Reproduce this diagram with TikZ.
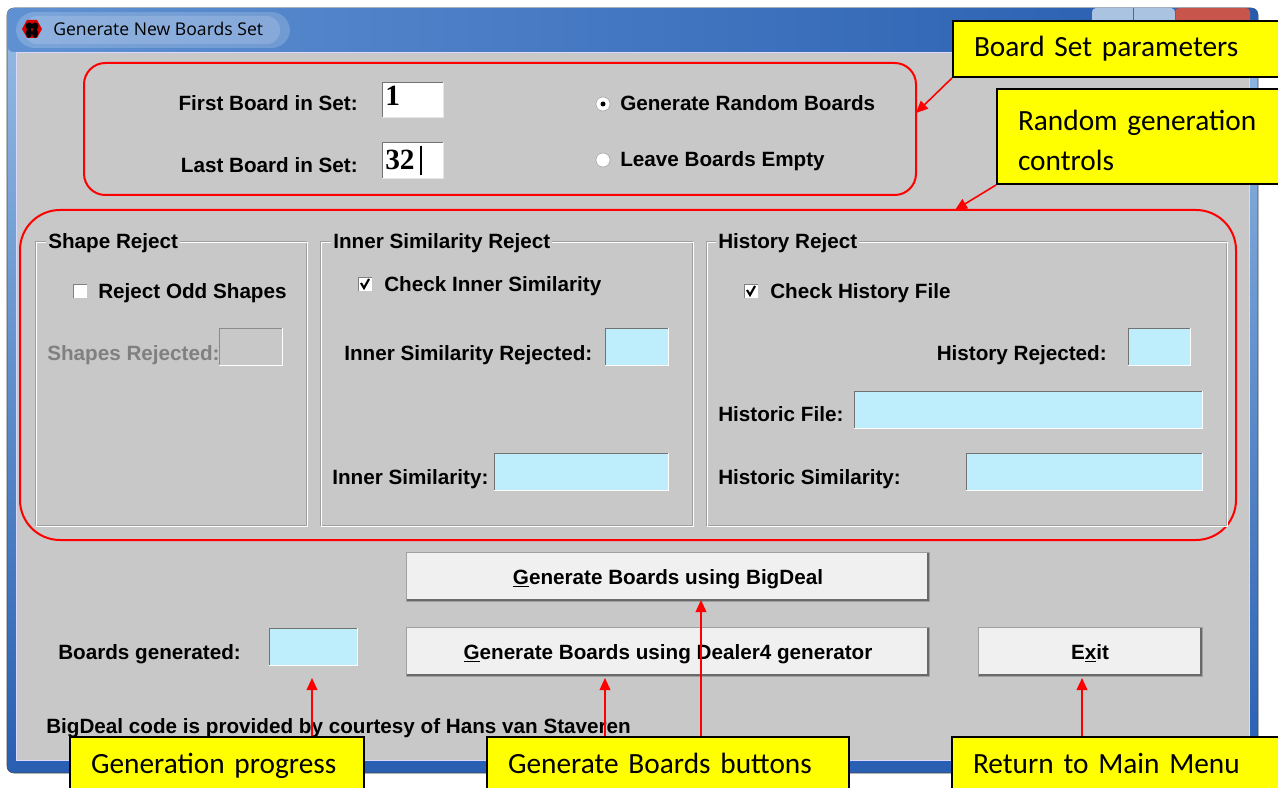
\documentclass[tikz,border=0pt]{standalone}
\usepackage{fontspec}
\setmainfont{Liberation Sans}
\newfontfamily\callfont{Carlito}
\newfontfamily\titlefont{Open Sans}
\newfontfamily\digitfont{Liberation Serif}
\usetikzlibrary{arrows.meta}

\definecolor{dlggray}{RGB}{200,200,200}
\definecolor{fieldblue}{RGB}{190,238,252}
\definecolor{btnface}{RGB}{240,240,240}
\definecolor{btnshadow}{RGB}{105,105,105}
\definecolor{etchdark}{RGB}{160,160,160}
\definecolor{frametop}{RGB}{150,188,228}
\definecolor{framebot}{RGB}{40,95,178}
\definecolor{titleA}{RGB}{95,145,210}
\definecolor{titleB}{RGB}{38,92,175}
\definecolor{capbtn}{RGB}{170,195,225}
\definecolor{closebtn}{RGB}{200,85,75}
\definecolor{calloutyellow}{RGB}{255,255,0}

\begin{document}
\begin{tikzpicture}[x=0.75pt,y=-0.75pt,
    lbl/.style={font=\bfseries\fontsize{15.5}{18}\selectfont, inner sep=0pt},
    callout/.style={draw=black, line width=1.5pt, fill=calloutyellow, anchor=north west,
      align=left, inner xsep=15.75pt, font=\callfont\fontsize{22}{30}\selectfont,
      execute at begin node=\strut},
    callarrow/.style={draw=red, line width=1.2pt, -{Triangle[length=9pt,width=8pt]}},
    redframe/.style={draw=red, line width=1.5pt},
  ]
  \useasboundingbox (0,0) rectangle (1278,788);
  \clip (0,0) rectangle (1278,788);
  \fill[white] (0,0) rectangle (1278,788);

  % window frame and title bar
  \shade[top color=frametop, bottom color=framebot, rounded corners=5pt] (7,8) rectangle (1258,773);
  \draw[black!70, rounded corners=5pt] (7,8) rectangle (1258,773);
  \shade[left color=titleA, right color=titleB, rounded corners=5pt]
    (7,52) -- (7,8) -- (1258,8) -- (1258,52) -- cycle;
  \fill[white, opacity=0.18, rounded corners=14pt] (16,12) rectangle (290,48);
  \fill[white, opacity=0.15, rounded corners=10pt] (24,16) rectangle (280,44);
  \fill[red!85!black] (22,29) -- (27,20) -- (37,20) -- (42,29) -- (37,38) -- (27,38) -- cycle;
  \fill[black] (29,26) circle (3.5) (35,26) circle (3.5) (29,33) ellipse (3 and 5) (35,33) ellipse (3 and 5);
  \node[anchor=base west, inner sep=0pt, font=\titlefont\fontsize{13.2}{15}\selectfont] (wintitle)
    at (53,36) {Generate New Boards Set};
  \fill[capbtn, rounded corners=3pt] (1092,8) rectangle (1175,30);
  \fill[closebtn, rounded corners=3pt] (1175,8) rectangle (1250,30);
  \draw[black!60] (1133,8) -- (1133,30) (1175,8) -- (1175,30);
  \fill[dlggray] (16,52) rectangle (1249,760);
  \draw[white!85!blue] (16,52) rectangle (1249,760);

  % board set parameters
  \draw[redframe, rounded corners=16pt] (84,63) rectangle (916,195);
  \node[lbl, anchor=base east] (firstlbl) at (358,111) {First Board in Set:};
  \node[lbl, anchor=base east] (lastlbl) at (358,173) {Last Board in Set:};
  \foreach \xa/\ya/\xb/\yb in {382/82/443/117, 382/142/443/178} {
    \fill[white] (\xa,\ya) rectangle (\xb,\yb);
    \draw[black!55] (\xa,\yb) |- (\xb,\ya);
    \draw[white!90!black] (\xa,\yb) -| (\xb,\ya);
  }
  \node[anchor=base west, inner sep=0pt, font=\digitfont\bfseries\fontsize{22}{22}\selectfont]
    (firstval) at (385,106) {1};
  \node[anchor=base west, inner sep=0pt, font=\digitfont\bfseries\fontsize{22}{22}\selectfont]
    (lastval) at (385,170) {32};
  \draw[black, line width=0.8pt] (421,146) -- (421,175);
  \draw[etchdark, fill=white] (603,104) circle (7) (603,160) circle (7);
  \fill[black] (603,104) circle (2.5);
  \node[lbl, anchor=base west] (randlbl) at (620,111) {Generate Random Boards};
  \node[lbl, anchor=base west] (emptylbl) at (620,167) {Leave Boards Empty};

  % random generation controls
  \draw[redframe, rounded corners=30pt] (20,210) rectangle (1236,540);
  \foreach \xa/\xb/\gname/\tx [count=\g] in {35/306/Shape Reject/46, 320/692/Inner Similarity Reject/331,
      706/1226/History Reject/716} {
    \draw[etchdark] (\xa,241) rectangle (\xb,525);
    \draw[white] (\xa+1.5,242.5) rectangle (\xb+1.5,526.5);
    \node[lbl, fill=dlggray, anchor=base west, inner xsep=1.5pt, inner ysep=2pt] (grp\g) at (\tx,248) {\gname};
  }
  \foreach \xa/\ya/\xb/\yb in {605/328/668/365, 494/453/668/490, 1128/328/1190/365,
      854/391/1202/428, 966/453/1202/490, 269/628/357/665} {
    \fill[fieldblue] (\xa,\ya) rectangle (\xb,\yb);
    \draw[black!55] (\xa,\yb) |- (\xb,\ya);
    \draw[white] (\xa,\yb) -| (\xb,\ya);
  }
  \draw[black!45] (219,365) |- (282,328);
  \draw[white] (219,365) -| (282,328);
  \foreach \cx/\cy in {80/291, 365/284, 751/291} {
    \fill[white] (\cx-7,\cy-7) rectangle (\cx+7,\cy+7);
    \draw[black!50] (\cx-7,\cy+7) |- (\cx+7,\cy-7);
  }
  \draw[line width=1.6pt] (361,283) -- (364,288) -- (369,279);
  \draw[line width=1.6pt] (747,290) -- (750,295) -- (755,286);
  \node[lbl, anchor=base west] (oddlbl) at (98,298) {Reject Odd Shapes};
  \node[lbl, anchor=base west, text=black!50] (shprej) at (47,360) {Shapes Rejected:};
  \node[lbl, anchor=base west] (innerchk) at (384,291) {Check Inner Similarity};
  \node[lbl, anchor=base west] (innerrej) at (344,360) {Inner Similarity Rejected:};
  \node[lbl, anchor=base west] (innersim) at (332,484) {Inner Similarity:};
  \node[lbl, anchor=base west] (histchk) at (770,298) {Check History File};
  \node[lbl, anchor=base east] (histrej) at (1107,360) {History Rejected:};
  \node[lbl, anchor=base west] (histfile) at (718,421) {Historic File:};
  \node[lbl, anchor=base west] (histsim) at (718,484) {Historic Similarity:};

  % buttons
  \foreach \xa/\ya/\xb/\yb in {406/552/929/601, 406/627/929/676, 978/627/1202/676} {
    \fill[btnface] (\xa,\ya) rectangle (\xb,\yb);
    \draw[etchdark] (\xa,\ya) rectangle (\xb,\yb);
    \draw[btnshadow, line width=1.5pt] (\xa+1,\yb-1) -| (\xb-1,\ya+1);
  }
  \node[lbl, anchor=base] (bigdeal) at (668,584) {\underline{G}enerate Boards using BigDeal};
  \node[lbl, anchor=base] (dealer) at (668,659) {\underline{G}enerate Boards using Dealer4 generator};
  \node[lbl, anchor=base] (exit) at (1090,659) {E\underline{x}it};
  \node[lbl, anchor=base west] (boardsgen) at (58,659) {Boards generated:};
  \node[lbl, anchor=base west] (credit) at (46,733) {BigDeal code is provided by courtesy of Hans van Staveren};

  % callouts
  \node[callout, text width=222pt, minimum height=42pt] (bsp) at (952,20) {Board Set parameters};
  \node[callout, text width=189pt, minimum height=71.25pt] (rgc) at (996,88) {Random generation\\controls};
  \node[callout, text width=189pt, minimum height=42pt] (gp) at (69,736) {Generation progress};
  \node[callout, text width=240pt, minimum height=42pt] (gbb) at (486,736) {Generate Boards buttons};
  \node[callout, text width=223.5pt, minimum height=42pt] (rmm) at (951,736) {Return to Main Menu};
  \coordinate (bsptip) at (916,113);
  \coordinate (rgctip) at (955,210);
  \coordinate (gptip) at (312,678);
  \coordinate (gbbtipA) at (605,678);
  \coordinate (gbbtipB) at (701,600);
  \coordinate (rmmtip) at (1082,678);
  \draw[callarrow] (bsp.south west) -- (bsptip);
  \draw[callarrow] (rgc.south west) -- (rgctip);
  \draw[callarrow] (gp.north -| gptip) -- (gptip);
  \draw[callarrow] (gbb.north -| gbbtipA) -- (gbbtipA);
  \draw[callarrow] (gbb.north -| gbbtipB) -- (gbbtipB);
  \draw[callarrow] (rmm.north -| rmmtip) -- (rmmtip);
\end{tikzpicture}
\end{document}
